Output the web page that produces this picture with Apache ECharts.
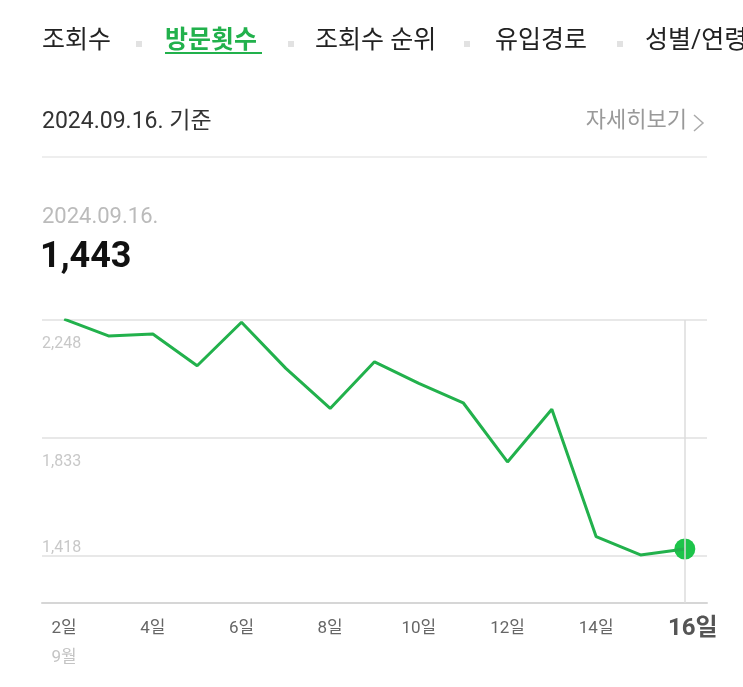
<!DOCTYPE html>
<html>
<head>
    <meta charset="utf-8" />
    <script src="https://cdn.jsdelivr.net/npm/echarts@6/dist/echarts.min.js"></script>
    <style>
        html, body { margin: 0; padding: 0; background: #fff; }
    </style>
</head>
<body>
    <div id="main" style="width: 743px;height:687px;"></div>
    <script type="text/javascript">
        // 9월 2일 ~ 16일 방문횟수
        const days = ['2일', '3일', '4일', '5일', '6일', '7일', '8일', '9일', '10일', '11일', '12일', '13일', '14일', '15일', '16일'];
        const visits = [2251, 2192, 2199, 2087, 2240, 2078, 1937, 2101, 2025, 1957, 1749, 1934, 1486, 1422, 1443];
        const yTicks = [1418, 1833, 2248];
        const tabs = ['조회수', '방문횟수', '조회수 순위', '유입경로', '성별/연령별'];
        const tabX = [42, 165, 315, 495, 645];
        const sepX = [136, 288, 464, 617];

        const FONT = 'Roboto, "Noto Sans CJK KR", sans-serif';
        const GREEN = '#22b14c';
        const last = visits.length - 1;

        const graphic = [];
        tabs.forEach((t, i) => {
            graphic.push({
                type: 'text', left: tabX[i], top: 29,
                style: {
                    text: t, font: (i === 1 ? 'bold ' : '') + '25px ' + FONT,
                    fill: i === 1 ? GREEN : '#222'
                }
            });
        });
        sepX.forEach(x => {
            graphic.push({ type: 'rect', shape: { x: x, y: 41, width: 6, height: 6 }, style: { fill: '#e2e2e2' } });
        });
        graphic.push(
            { type: 'rect', shape: { x: 165, y: 52, width: 97, height: 2 }, style: { fill: GREEN } },
            { type: 'text', left: 42, top: 111, style: { text: '2024.09.16. 기준', font: '23px ' + FONT, fill: '#333' } },
            { type: 'text', right: 56, top: 110, style: { text: '자세히보기', font: '22px ' + FONT, fill: '#999' } },
            { type: 'polyline', shape: { points: [[694, 115], [703, 123], [694, 131]] }, style: { stroke: '#aaa', lineWidth: 1.5, fill: null } },
            { type: 'rect', shape: { x: 42, y: 156, width: 665, height: 2 }, style: { fill: '#eeeeee' } },
            { type: 'text', left: 42, top: 206, style: { text: '2024.09.16.', font: '22px ' + FONT, fill: '#bbb' } },
            { type: 'text', left: 40, top: 240, style: { text: visits[last].toLocaleString('en-US'), font: 'bold 36px ' + FONT, fill: '#111' } }
        );

        const myChart = echarts.init(document.getElementById('main'));
        myChart.setOption({
            animation: false,
            graphic: graphic,
            grid: { left: 42, right: 36, top: 320, bottom: 84 },
            xAxis: {
                type: 'category',
                data: days,
                boundaryGap: true,
                axisLine: { lineStyle: { color: '#d6d6d6', width: 2 } },
                axisTick: { show: false },
                axisLabel: {
                    interval: 1,
                    margin: 16,
                    fontFamily: FONT,
                    formatter: function (v, idx) {
                        if (idx === 0) return '{n|' + v + '}\n{m|9월}';
                        if (idx === last) return '{b|' + v + '}';
                        return '{n|' + v + '}';
                    },
                    rich: {
                        n: { fontSize: 17, color: '#666', fontFamily: FONT, lineHeight: 20 },
                        m: { fontSize: 17, color: '#c4c4c4', fontFamily: FONT, lineHeight: 38 },
                        b: { fontSize: 24, color: '#555', fontWeight: 'bold', fontFamily: FONT, lineHeight: 20, padding: [0, 0, 0, 16] }
                    }
                }
            },
            yAxis: {
                type: 'value',
                min: 1253,
                max: 2248,
                axisLine: { show: false },
                axisTick: { show: false, customValues: yTicks },
                splitLine: { lineStyle: { color: '#e8e8e8', width: 2 } },
                axisLabel: {
                    inside: true,
                    margin: 0,
                    customValues: yTicks,
                    formatter: function (v) {
                        const s = v.toLocaleString('en-US');
                        return v === yTicks[0] ? '{lo|' + s + '}' : '{hi|' + s + '}';
                    },
                    rich: {
                        hi: { fontSize: 16, color: '#c8c8c8', fontFamily: FONT, padding: [48, 0, 0, 0] },
                        lo: { fontSize: 16, color: '#c8c8c8', fontFamily: FONT, padding: [0, 0, 16, 0] }
                    }
                }
            },
            series: [{
                type: 'line',
                data: visits,
                showSymbol: false,
                lineStyle: { color: GREEN, width: 3 },
                markLine: {
                    silent: true,
                    symbol: 'none',
                    label: { show: false },
                    lineStyle: { color: '#dcdcdc', width: 1.5, type: 'solid' },
                    data: [{ xAxis: days[last] }]
                }
            }, {
                type: 'scatter',
                data: visits.map((v, i) => (i === last ? v : '-')),
                symbolSize: 21,
                itemStyle: { color: '#1dc44a', opacity: 1 }
            }]
        });
    </script>
</body>
</html>
